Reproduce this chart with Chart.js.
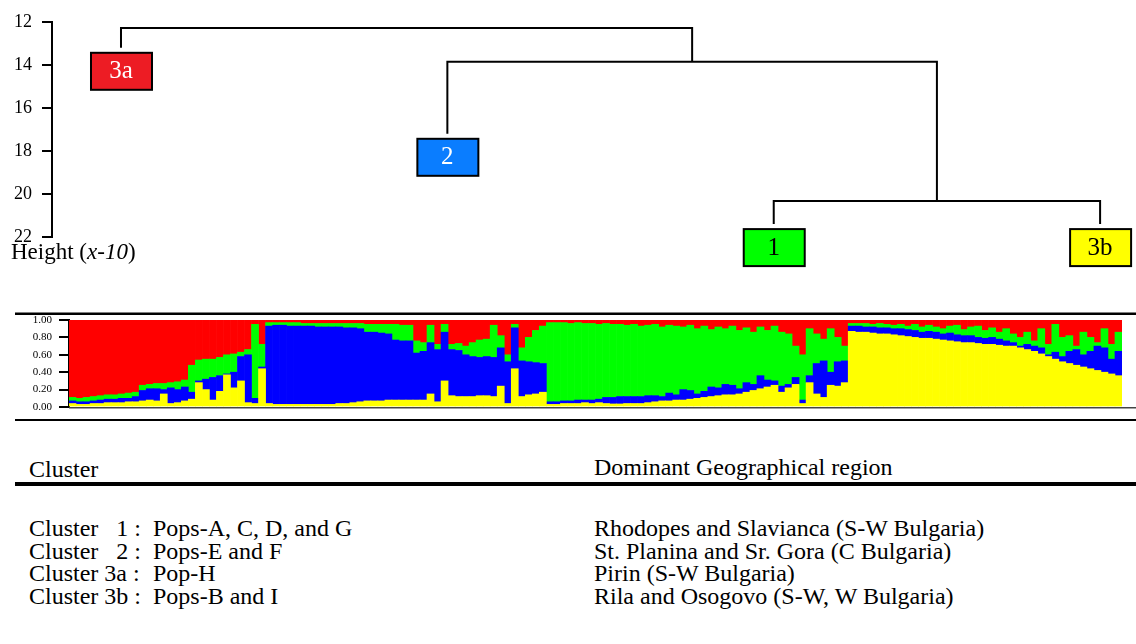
<!DOCTYPE html>
<html>
<head>
<meta charset="utf-8">
<script src="https://cdn.jsdelivr.net/npm/chart.js@4.4.1/dist/chart.umd.min.js"></script>
<style>
body{margin:0;background:#fff;width:1136px;height:644px;position:relative;overflow:hidden;font-family:"Liberation Serif","Times New Roman",serif;color:#000;}
.txt{position:absolute;white-space:pre;line-height:1;font-size:24px;}
#tree{position:absolute;left:0;top:0;}
#qplot{position:absolute;left:0;top:300px;}
.rule{position:absolute;left:15px;width:1121px;height:4px;top:482px;background:#000;}
</style>
</head>
<body>
<canvas id="tree" width="1136" height="280"></canvas>
<div class="txt" style="left:11px;top:240px;font-size:23px">Height (<i>x-10</i>)</div>
<canvas id="qplot" width="1136" height="130"></canvas>

<div class="txt" style="left:29px;top:457px">Cluster</div>
<div class="txt" style="left:594px;top:455px">Dominant Geographical region</div>
<div class="rule"></div>
<div id="rows"></div>

<script>
// dendrogram: leaves 0-3, merges make nodes 4,5,6
const leafNames=["3a","2","1","3b"];
const leafTip=[13.2,17.2,21.4,21.4];
const leafColors=["#ed1c24","#0a7dff","#00ff00","#ffff00"];
const leafText=["#ffffff","#ffffff","#000000","#000000"];
const merges=[[2,3,20.33],[1,4,13.85],[0,5,12.28]];
const heightTicks=[12,14,16,18,20,22];

// STRUCTURE q-values, upper edge of each colour (yellow at bottom, red fills to 1)
const yellowTop=[
0.04,0.03,0.03,0.04,0.04,0.05,0.05,0.05,0.06,0.06,
0.07,0.08,0.07,0.15,0.04,0.05,0.07,0.09,0.28,0.20,
0.08,0.18,0.37,0.22,0.30,0.05,0.04,0.44,0.04,0.03,
0.03,0.03,0.03,0.03,0.03,0.03,0.03,0.03,0.04,0.04,
0.05,0.06,0.07,0.07,0.07,0.08,0.08,0.08,0.08,0.08,
0.08,0.15,0.06,0.30,0.13,0.12,0.12,0.12,0.13,0.13,
0.12,0.24,0.04,0.44,0.12,0.14,0.15,0.17,0.03,0.03,
0.04,0.04,0.04,0.05,0.04,0.05,0.04,0.035,0.035,0.04,
0.04,0.04,0.05,0.06,0.07,0.07,0.08,0.08,0.09,0.10,
0.11,0.12,0.13,0.14,0.14,0.15,0.17,0.19,0.21,0.23,
0.25,0.17,0.22,0.26,0.04,0.28,0.15,0.11,0.25,0.24,
0.28,0.87,0.86,0.86,0.85,0.84,0.84,0.83,0.82,0.81,
0.80,0.79,0.79,0.78,0.77,0.76,0.75,0.74,0.74,0.73,
0.72,0.72,0.71,0.70,0.70,0.68,0.66,0.64,0.61,0.58,
0.55,0.52,0.50,0.48,0.46,0.44,0.42,0.40,0.38,0.36];
const blueTop=[
0.07,0.06,0.06,0.07,0.08,0.09,0.09,0.10,0.10,0.12,
0.19,0.21,0.21,0.20,0.22,0.20,0.23,0.17,0.30,0.32,
0.34,0.36,0.38,0.40,0.58,0.60,0.10,0.46,0.93,0.94,
0.94,0.93,0.93,0.93,0.93,0.92,0.92,0.92,0.92,0.91,
0.91,0.90,0.86,0.86,0.85,0.84,0.77,0.76,0.76,0.62,
0.64,0.74,0.66,0.86,0.66,0.65,0.60,0.58,0.57,0.58,
0.57,0.68,0.52,0.91,0.53,0.52,0.51,0.50,0.06,0.06,
0.07,0.07,0.08,0.08,0.08,0.09,0.11,0.11,0.12,0.12,
0.12,0.12,0.13,0.13,0.12,0.16,0.14,0.20,0.19,0.15,
0.18,0.23,0.22,0.26,0.25,0.21,0.28,0.26,0.36,0.31,
0.30,0.24,0.26,0.34,0.08,0.36,0.50,0.53,0.40,0.52,
0.53,0.93,0.93,0.92,0.92,0.91,0.91,0.90,0.90,0.89,
0.88,0.86,0.87,0.86,0.84,0.85,0.83,0.82,0.82,0.80,
0.79,0.80,0.78,0.76,0.74,0.70,0.72,0.70,0.68,0.60,
0.63,0.58,0.64,0.66,0.60,0.64,0.70,0.68,0.55,0.64];
const greenTop=[
0.11,0.10,0.11,0.12,0.13,0.14,0.14,0.15,0.16,0.17,
0.25,0.26,0.27,0.27,0.28,0.29,0.31,0.48,0.54,0.55,
0.55,0.57,0.60,0.61,0.63,0.66,0.95,0.72,0.97,0.97,
0.97,0.97,0.97,0.96,0.96,0.96,0.96,0.96,0.96,0.96,
0.96,0.96,0.95,0.95,0.95,0.95,0.95,0.94,0.94,0.76,
0.74,0.94,0.72,0.95,0.72,0.73,0.70,0.74,0.77,0.78,
0.94,0.82,0.60,0.95,0.68,0.80,0.88,0.93,0.97,0.97,
0.97,0.96,0.97,0.96,0.96,0.95,0.96,0.95,0.95,0.94,
0.95,0.93,0.94,0.95,0.92,0.94,0.93,0.92,0.94,0.90,
0.93,0.89,0.92,0.90,0.93,0.88,0.91,0.86,0.92,0.88,
0.93,0.86,0.84,0.70,0.60,0.90,0.84,0.78,0.90,0.80,
0.70,0.96,0.96,0.96,0.95,0.96,0.95,0.94,0.95,0.93,
0.95,0.92,0.94,0.92,0.90,0.93,0.94,0.89,0.92,0.93,
0.88,0.91,0.86,0.90,0.84,0.80,0.86,0.76,0.90,0.72,
0.95,0.80,0.82,0.70,0.86,0.80,0.74,0.90,0.72,0.86];
const qTicks=[0,0.2,0.4,0.6,0.8,1];

const clusterNames=["Cluster   1 :","Cluster   2 :","Cluster 3a :","Cluster 3b :"];
const clusterPops=["Pops-A, C, D, and G","Pops-E and F","Pop-H","Pops-B and I"];
const clusterRegions=["Rhodopes and Slavianca (S-W Bulgaria)","St. Planina and Sr. Gora (C Bulgaria)","Pirin (S-W Bulgaria)","Rila and Osogovo (S-W, W Bulgaria)"];

// table rows
const rows=document.getElementById("rows");
clusterNames.forEach((n,i)=>{
  const top=516+i*22.7;
  rows.insertAdjacentHTML("beforeend",
    `<div class="txt" style="left:29px;top:${top}px">${n}</div>`+
    `<div class="txt" style="left:153px;top:${top}px">${clusterPops[i]}</div>`+
    `<div class="txt" style="left:594px;top:${top}px">${clusterRegions[i]}</div>`);
});

// build dendrogram segments from merges
const nodeX=leafNames.map((n,i)=>i);
const nodeY=leafTip.slice();
const treePts=[];
merges.forEach(([a,b,h])=>{
  treePts.push(
    {x:nodeX[a],y:nodeY[a]},{x:nodeX[a],y:h},
    {x:nodeX[b],y:h},{x:nodeX[b],y:nodeY[b]},
    {x:nodeX[b],y:null});
  nodeX.push((nodeX[a]+nodeX[b])/2);
  nodeY.push(h);
});

const serif='"Liberation Serif", "Times New Roman", serif';

const treeBoxes={
  id:"treeBoxes",
  afterDatasetsDraw(chart){
    const {ctx,scales:{x,y}}=chart;
    ctx.save();
    leafNames.forEach((name,i)=>{
      const cx=x.getPixelForValue(i);
      const top=y.getPixelForValue(leafTip[i])+5;
      ctx.fillStyle=leafColors[i];
      ctx.fillRect(cx-30,top,61,37);
      ctx.lineWidth=2;
      ctx.strokeStyle="#000";
      ctx.strokeRect(cx-30,top,61,37);
      ctx.fillStyle=leafText[i];
      ctx.font="25px "+serif;
      ctx.textAlign="center";
      ctx.textBaseline="middle";
      ctx.fillText(name,cx,top+19);
    });
    ctx.restore();
  }
};

new Chart(document.getElementById("tree"),{
  type:"scatter",
  data:{datasets:[{
    data:treePts,
    showLine:true,
    spanGaps:false,
    borderColor:"#000",
    borderWidth:2,
    borderJoinStyle:"miter",
    pointRadius:0,
    clip:false
  }]},
  options:{
    responsive:false,
    animation:false,
    layout:{padding:{left:0,right:0,top:22,bottom:43}},
    plugins:{legend:{display:false},tooltip:{enabled:false}},
    scales:{
      x:{type:"linear",min:-0.2114,max:3.11,display:false},
      y:{
        type:"linear",reverse:true,min:12,max:22,
        afterFit:s=>{s.width=52;},
        afterBuildTicks:s=>{s.ticks=heightTicks.map(v=>({value:v}));},
        grid:{drawOnChartArea:false,drawTicks:true,tickLength:10,color:"#000",lineWidth:2},
        border:{display:true,color:"#000",width:2},
        ticks:{color:"#000",padding:10,font:{family:serif,size:18}}
      }
    }
  },
  plugins:[treeBoxes]
});

// STRUCTURE bar plot
const individuals=yellowTop.map((v,i)=>String(i+1));
const bands=[
  {color:"#ffff00",lo:individuals.map(()=>0),hi:yellowTop},
  {color:"#0000ff",lo:yellowTop,hi:blueTop},
  {color:"#00ff00",lo:blueTop,hi:greenTop},
  {color:"#ff0000",lo:greenTop,hi:individuals.map(()=>1)}
];

const frame={
  id:"frame",
  afterDraw(chart){
    const {ctx,chartArea,width}=chart;
    ctx.save();
    ctx.fillStyle="#000";
    ctx.fillRect(15,12.5,width-15,2.5);
    ctx.fillRect(15,119,width-15,2);
    ctx.fillStyle="#444";
    ctx.fillRect(chartArea.left,chartArea.bottom,width-chartArea.left,1.5);
    ctx.restore();
  }
};

new Chart(document.getElementById("qplot"),{
  type:"bar",
  data:{
    labels:individuals,
    datasets:bands.map(b=>({
      data:b.hi.map((v,i)=>[b.lo[i],v]),
      backgroundColor:b.color,
      borderWidth:0,
      grouped:false,
      barPercentage:1,
      categoryPercentage:1
    }))
  },
  options:{
    responsive:false,
    animation:false,
    layout:{padding:{left:0,right:14,top:20,bottom:23}},
    plugins:{legend:{display:false},tooltip:{enabled:false}},
    scales:{
      x:{display:false},
      y:{
        min:0,max:1,
        afterFit:s=>{s.width=69;},
        afterBuildTicks:s=>{s.ticks=qTicks.map(v=>({value:v}));},
        grid:{drawOnChartArea:false,drawTicks:true,tickLength:10,color:"#000",lineWidth:2},
        border:{display:true,color:"#000",width:2},
        ticks:{color:"#000",padding:7,font:{family:serif,size:11},callback:v=>v.toFixed(2)}
      }
    }
  },
  plugins:[frame]
});
</script>
</body>
</html>
